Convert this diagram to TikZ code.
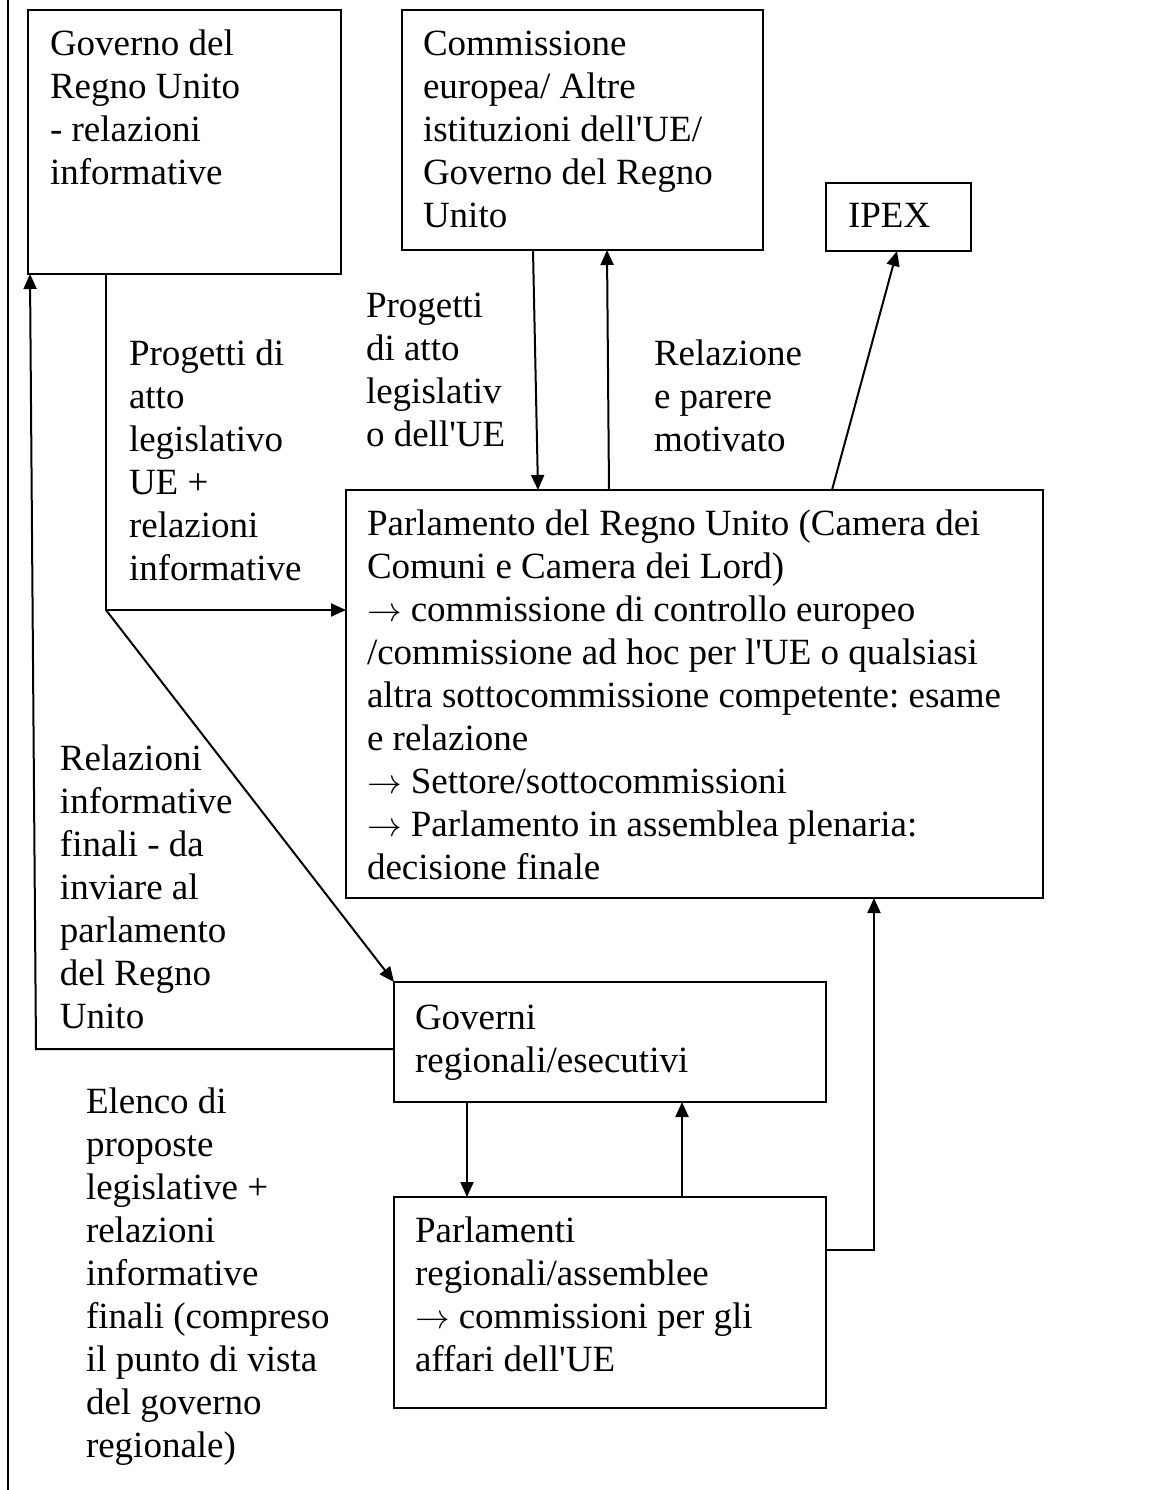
\documentclass[tikz,border=0pt]{standalone}
\usepackage{fontspec}
\setmainfont{Liberation Serif}
\usetikzlibrary{arrows.meta,calc,fit}
\newcommand\mylines[1]{\begin{tabular}[t]{@{}l@{}}#1\end{tabular}}
\newcommand\apo{\textquotesingle}
\newcommand\rarr{$\rightarrow$}
\frenchspacing
\begin{document}
\begin{tikzpicture}[x=0.5pt,y=-0.5pt,
  every node/.style={font=\fontsize{18.5}{21.5}\selectfont},
  boxnode/.style={draw,line width=1pt,inner sep=0pt,outer sep=0pt,rectangle},
  txt/.style={anchor=base west,inner sep=0pt,outer sep=0pt},
  arr/.style={line width=1pt,-{Triangle[length=7.5pt,width=6.5pt]}},
  plain/.style={line width=1pt}]
\useasboundingbox (0,0) rectangle (1155,1490);
\fill[white] (0,0) rectangle (1155,1490);
% left border line
\draw[plain] (8,0) -- (8,1490);

% boxes
\node[boxnode,fit={(28,10) (341,274)}] (gov) {};
\node[boxnode,fit={(402,10) (763,250)}] (comm) {};
\node[boxnode,fit={(826,183) (971,251)}] (ipex) {};
\node[boxnode,fit={(346,490) (1043,898)}] (parl) {};
\node[boxnode,fit={(394,982) (826,1102)}] (gr) {};
\node[boxnode,fit={(394,1197) (826,1408)}] (pr) {};

% box texts
\node[txt] (govt) at (50,55) {\mylines{Governo del\\Regno Unito\\- relazioni\\informative}};
\node[txt] (commt) at (423,55) {\mylines{Commissione\\europea/ Altre\\istituzioni dell\apo UE/\\Governo del Regno\\Unito}};
\node[txt] (ipext) at (848,227) {IPEX};
\node[txt] (parlt) at (367,535) {\mylines{Parlamento del Regno Unito (Camera dei\\Comuni e Camera dei Lord)\\\rarr{} commissione di controllo europeo\\/commissione ad hoc per l\apo UE o qualsiasi\\altra sottocommissione competente: esame\\e relazione\\\rarr{} Settore/sottocommissioni\\\rarr{} Parlamento in assemblea plenaria:\\decisione finale}};
\node[txt] (grt) at (415,1029) {\mylines{Governi\\regionali/esecutivi}};
\node[txt] (prt) at (415,1242) {\mylines{Parlamenti\\regionali/assemblee\\\rarr{} commissioni per gli\\affari dell\apo UE}};

% free labels
\node[txt] (l1) at (129,365) {\mylines{Progetti di\\atto\\legislativo\\UE +\\relazioni\\informative}};
\node[txt] (l2) at (366,317) {\mylines{Progetti\\di atto\\legislativ\\o dell\apo UE}};
\node[txt] (l3) at (654,365) {\mylines{Relazione\\e parere\\motivato}};
\node[txt] (l4) at (60,770) {\mylines{Relazioni\\informative\\finali - da\\inviare al\\parlamento\\del Regno\\Unito}};
\node[txt] (l5) at (86,1113) {\mylines{Elenco di\\proposte\\legislative +\\relazioni\\informative\\finali (compreso\\il punto di vista\\del governo\\regionale)}};

% helper coordinates
\coordinate (split) at ($(gov.south west)+(78,336)$);
\coordinate (bendL) at (36,1049);

% connectors
\draw[arr] ($(comm.south west)+(131,0)$) -- ($(parl.north west)+(192,0)$);
\draw[arr] ($(parl.north west)+(263,0)$) -- ($(comm.south west)+(205,0)$);
\draw[arr] ($(parl.north west)+(486,0)$) -- ($(ipex.south west)+(71,0)$);
\draw[arr] ($(gov.south west)+(78,0)$) -- (split) -- (split -| parl.west);
\draw[arr] (split) -- (gr.north west);
\draw[arr] ($(gr.north west)+(0,67)$) -- (bendL) -- ($(gov.south west)+(2,0)$);
\draw[arr] ($(gr.south west)+(73,0)$) -- ($(pr.north west)+(73,0)$);
\draw[arr] ($(pr.north west)+(288,0)$) -- ($(gr.south west)+(288,0)$);
\draw[arr] ($(pr.north east)+(0,53)$) -| ($(parl.south west)+(528,0)$);
\end{tikzpicture}
\end{document}
